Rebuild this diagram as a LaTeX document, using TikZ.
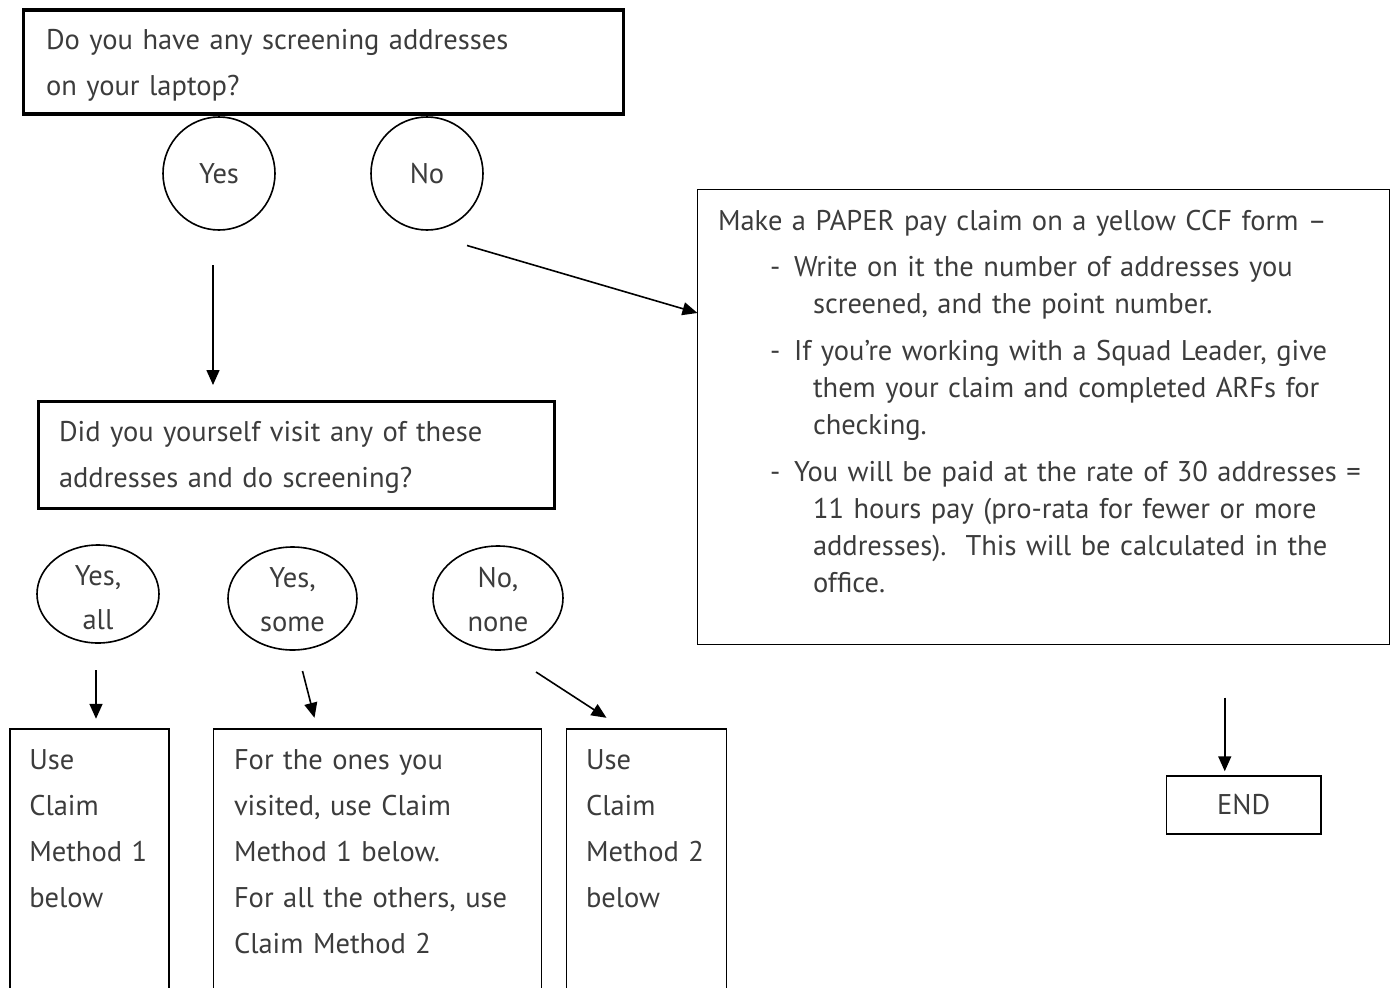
\documentclass[tikz,border=0pt]{standalone}
\usepackage{fontspec}
\setmainfont{PT Sans}
\usepackage{tikz}
\usetikzlibrary{
  arrows.meta, positioning, shapes.geometric
}
\definecolor{inkgray}{HTML}{3C3C3C}
\newcommand\dashline[1]{\hspace*{52pt}\makebox[24pt][l]{-}\mbox{#1}}
\newcommand\moreline[1]{\hspace*{95pt}\mbox{#1}}

\begin{document}
\begin{tikzpicture}[x=1pt, y=-1pt,
  txt/.style={font=\fontsize{28.5}{46}\selectfont, text=inkgray},
  qbox/.style={txt, draw, line width=3.4pt, anchor=north west, outer sep=0pt, inner ysep=0pt, align=left},
  ansbox/.style={txt, draw, line width=1.6pt, anchor=north west, outer sep=0pt, inner ysep=0pt, align=left},
  choice/.style={txt, draw, ellipse, line width=1.6pt, inner sep=0pt, outer sep=0pt, align=center, font=\fontsize{28.5}{44}\selectfont},
  arr/.style={line width=1.6pt, -{Triangle[length=15pt,width=13pt]}}
]
  \useasboundingbox (0,0) rectangle (1393,988);

  % questions
  \node[qbox, inner xsep=22.5pt, text width=555pt, text height=39.5pt, text depth=64.5pt] (laptop) at (23.5,10)
    {Do you have any screening addresses\\on your laptop?};
  \node[qbox, inner xsep=20.5pt, text width=475pt, text height=39.5pt, text depth=67.5pt] (visit) at (38.5,401.5)
    {Did you yourself visit any of these\\addresses and do screening?};

  % answers
  \node[choice, minimum width=112pt, minimum height=113pt] (yes) at (219,173.5) {Yes};
  \node[choice, minimum width=112pt, minimum height=113pt] (no) at (427,173.5) {No};
  \node[choice, minimum width=122pt, minimum height=98pt, text width=70pt, text height=22pt, text depth=40pt] (yesall) at (98,594) {Yes,\\all};
  \node[choice, minimum width=129pt, minimum height=103pt, text width=70pt, text height=22pt, text depth=45pt] (yessome) at (292.5,598.5) {Yes,\\some};
  \node[choice, minimum width=130pt, minimum height=104pt, text width=70pt, text height=22pt, text depth=44pt] (nonone) at (498,598) {No,\\none};

  % outcomes
  \node[ansbox, inner xsep=20.5pt, text width=651pt, text height=40.5pt, text depth=414.5pt,
    font=\fontsize{28.5}{37}\selectfont] (paper) at (697.5,189.5)
    {Make a PAPER pay claim on a yellow CCF form –\\[9pt]
     \dashline{Write on it the number of addresses you}\\
     \moreline{screened, and the point number.}\\[10pt]
     \dashline{If you’re working with a Squad Leader, give}\\
     \moreline{them your claim and completed ARFs for}\\
     \moreline{checking.}\\[10pt]
     \dashline{You will be paid at the rate of 30 addresses =}\\
     \moreline{11 hours pay (pro-rata for fewer or more}\\
     \moreline{addresses).\ \ This will be calculated in the}\\
     \moreline{office.}};
  \node[ansbox, inner xsep=19.5pt, text width=120pt, text height=41pt, text depth=230pt] (useone) at (9.75,728.8)
    {Use\\Claim\\Method 1\\below};
  \node[ansbox, inner xsep=20.5pt, text width=287pt, text height=41pt, text depth=230pt] (mixed) at (213.5,728.8)
    {For the ones you\\visited, use Claim\\Method 1 below.\\For all the others, use\\Claim Method 2};
  \node[ansbox, inner xsep=19.5pt, text width=121pt, text height=41pt, text depth=230pt] (usetwo) at (566.5,728.8)
    {Use\\Claim\\Method 2\\below};
  \node[ansbox, anchor=center, align=center, minimum width=154.5pt, minimum height=57.5pt] (finish) at (1243.75,805) {END};

  % connectors
  \draw[arr, shorten <=35pt, shorten >=16.5pt] ([xshift=-6pt]yes.south) -- ([xshift=-6pt]yes.south |- visit.north);
  \draw[arr] ([shift={(40,72)}]no.center) -- ([yshift=104pt]paper.west);
  \draw[arr, shorten <=27pt, shorten >=10pt] ([xshift=-2pt]yesall.south) -- ([xshift=-2pt]yesall.south |- useone.north);
  \draw[arr] ([shift={(10,21)}]yessome.south) -- ([shift={(101,-11)}]mixed.north west);
  \draw[arr] ([shift={(38,22)}]nonone.south) -- ([shift={(40,-11)}]usetwo.north west);
  \draw[arr, shorten <=53pt, shorten >=5pt] ([xshift=-19pt]finish.north |- paper.south) -- ([xshift=-19pt]finish.north);
\end{tikzpicture}
\end{document}
